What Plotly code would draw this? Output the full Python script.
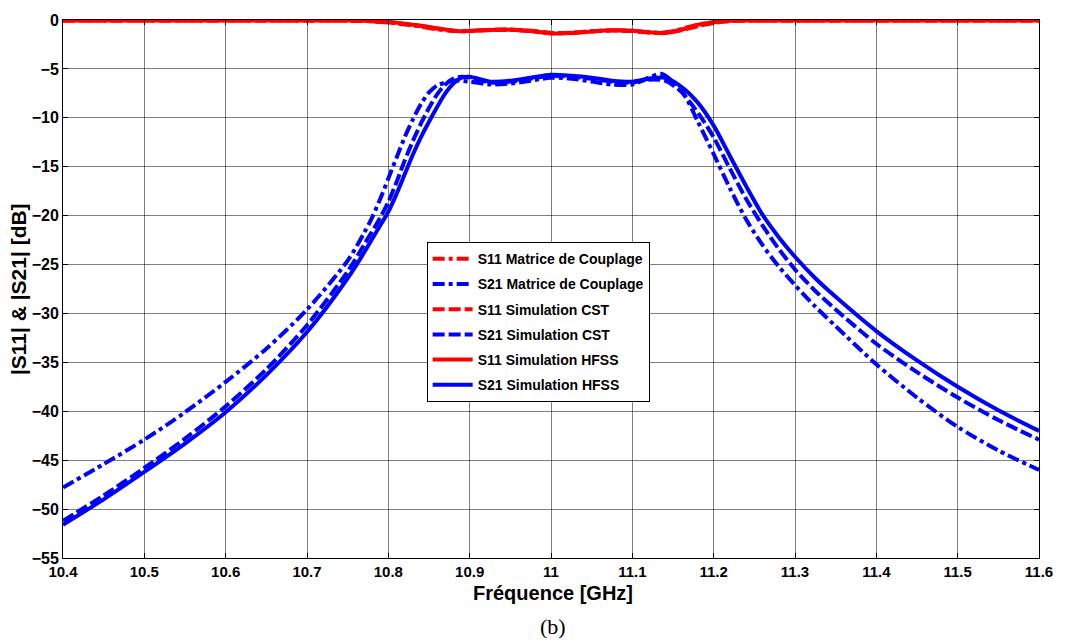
import plotly.graph_objects as go

# Frequency grid (GHz) and magnitudes (dB) for each model of the filter

# Coupling-matrix model
f_mat = [10.40, 10.45, 10.50, 10.55, 10.60, 10.65, 10.70, 10.75, 10.77, 10.78, 10.79,
         10.80, 10.81, 10.82, 10.83, 10.84, 10.85, 10.86, 10.87, 10.88, 10.90, 10.925,
         10.95, 10.975, 11.00, 11.025, 11.05, 11.075, 11.10, 11.12, 11.135, 11.15,
         11.165, 11.18, 11.20, 11.22, 11.24, 11.26, 11.28, 11.30, 11.325, 11.35,
         11.40, 11.45, 11.50, 11.55, 11.60]
s21_mat = [-47.8, -45.4, -42.9, -40.1, -37.0, -33.6, -29.6, -24.6, -21.8, -20.2, -18.3,
           -16.2, -14.1, -12.0, -10.2, -8.6, -7.4, -6.7, -6.4, -6.2, -6.3, -6.6,
           -6.5, -6.2, -5.9, -6.0, -6.3, -6.6, -6.6, -5.9, -5.5, -6.3,
           -7.8, -10.3, -13.7, -17.2, -20.4, -23.0, -25.2, -27.1, -29.3, -31.3,
           -35.2, -38.6, -41.6, -44.0, -46.0]
s11_mat = [-0.05, -0.05, -0.05, -0.05, -0.05, -0.05, -0.05, -0.06, -0.10, -0.14, -0.20,
           -0.27, -0.35, -0.45, -0.55, -0.68, -0.82, -0.95, -1.05, -1.12, -1.10, -1.00,
           -1.00, -1.12, -1.35, -1.32, -1.15, -1.05, -1.10, -1.25, -1.30, -1.15,
           -0.80, -0.50, -0.22, -0.09, -0.06, -0.05, -0.05, -0.05, -0.05, -0.05,
           -0.05, -0.05, -0.05, -0.05, -0.05]

# CST simulation
f_cst = [10.40, 10.45, 10.50, 10.55, 10.60, 10.65, 10.70, 10.75, 10.77, 10.79, 10.80,
         10.81, 10.82, 10.83, 10.84, 10.85, 10.86, 10.87, 10.88, 10.89, 10.90, 10.925,
         10.95, 10.975, 11.00, 11.025, 11.05, 11.075, 11.10, 11.12, 11.14, 11.16,
         11.17, 11.185, 11.20, 11.22, 11.24, 11.26, 11.28, 11.30, 11.325, 11.35,
         11.40, 11.45, 11.50, 11.55, 11.60]
s21_cst = [-51.2, -48.6, -45.8, -42.8, -39.5, -35.7, -31.2, -25.7, -23.0, -20.2, -18.6,
           -16.6, -14.4, -12.4, -10.6, -9.0, -7.6, -6.6, -6.0, -5.8, -5.9, -6.4,
           -6.3, -6.0, -5.7, -5.8, -6.0, -6.3, -6.4, -6.1, -6.2, -7.3,
           -8.3, -10.0, -12.0, -15.2, -18.3, -21.0, -23.4, -25.5, -27.7, -29.6,
           -33.1, -36.0, -38.6, -40.9, -42.9]
s11_cst = [-0.05, -0.05, -0.05, -0.05, -0.05, -0.05, -0.05, -0.06, -0.09, -0.16, -0.22,
           -0.30, -0.40, -0.50, -0.62, -0.75, -0.88, -1.00, -1.10, -1.15, -1.12, -1.02,
           -0.98, -1.10, -1.32, -1.30, -1.15, -1.08, -1.12, -1.28, -1.32, -1.05,
           -0.85, -0.55, -0.30, -0.12, -0.06, -0.05, -0.05, -0.05, -0.05, -0.05,
           -0.05, -0.05, -0.05, -0.05, -0.05]

# HFSS simulation
f_hfss = [10.40, 10.45, 10.50, 10.55, 10.60, 10.65, 10.70, 10.75, 10.77, 10.79, 10.80,
          10.81, 10.82, 10.83, 10.84, 10.85, 10.86, 10.87, 10.88, 10.89, 10.90, 10.925,
          10.95, 10.975, 11.00, 11.025, 11.05, 11.075, 11.10, 11.12, 11.14, 11.16,
          11.18, 11.20, 11.22, 11.24, 11.26, 11.28, 11.30, 11.325, 11.35,
          11.40, 11.45, 11.50, 11.55, 11.60]
s21_hfss = [-51.6, -49.0, -46.2, -43.3, -40.1, -36.3, -31.9, -26.4, -23.8, -21.0, -19.6,
            -17.8, -15.8, -13.8, -12.0, -10.4, -8.9, -7.5, -6.5, -5.9, -5.8, -6.3,
            -6.2, -5.9, -5.6, -5.7, -5.9, -6.2, -6.3, -6.0, -5.9, -6.8,
            -8.4, -10.8, -13.9, -17.0, -19.9, -22.2, -24.2, -26.4, -28.3,
            -31.8, -34.8, -37.5, -39.9, -42.0]
s11_hfss = [-0.05, -0.05, -0.05, -0.05, -0.05, -0.05, -0.05, -0.05, -0.08, -0.14, -0.20,
            -0.28, -0.38, -0.48, -0.58, -0.70, -0.85, -0.98, -1.08, -1.15, -1.12, -1.02,
            -1.00, -1.12, -1.38, -1.33, -1.18, -1.06, -1.10, -1.26, -1.34, -1.00,
            -0.50, -0.22, -0.08, -0.05, -0.05, -0.05, -0.05, -0.05, -0.05,
            -0.05, -0.05, -0.05, -0.05, -0.05]

x_ticks = [10.4, 10.5, 10.6, 10.7, 10.8, 10.9, 11.0, 11.1, 11.2, 11.3, 11.4, 11.5, 11.6]
x_tick_text = ["10.4", "10.5", "10.6", "10.7", "10.8", "10.9", "11", "11.1", "11.2",
               "11.3", "11.4", "11.5", "11.6"]
y_ticks = [0, -5, -10, -15, -20, -25, -30, -35, -40, -45, -50, -55]

RED = "#ff0000"
BLUE = "#0000ff"
LW = 4
DASHDOT = "12px,4px,4px,4px"
DASH = "12px,4px"

SANS = "Liberation Sans, Arial, sans-serif"

series = [
    ("S11 Matrice de Couplage", f_mat, s11_mat, RED, DASHDOT),
    ("S21 Matrice de Couplage", f_mat, s21_mat, BLUE, DASHDOT),
    ("S11 Simulation CST", f_cst, s11_cst, RED, DASH),
    ("S21 Simulation CST", f_cst, s21_cst, BLUE, DASH),
    ("S11 Simulation HFSS", f_hfss, s11_hfss, RED, "solid"),
    ("S21 Simulation HFSS", f_hfss, s21_hfss, BLUE, "solid"),
]

fig = go.Figure()
for i, (name, fx, fy, col, dash) in enumerate(series):
    fig.add_trace(go.Scatter(
        x=fx, y=fy, mode="lines", name=name, legendgroup=f"g{i}",
        line=dict(color=col, width=LW, dash=dash, shape="spline", smoothing=0.8),
    ))

axis_common = dict(
    showgrid=True, gridcolor="rgba(0,0,0,0.5)", gridwidth=1,
    showline=True, linecolor="black", linewidth=1, mirror="ticks",
    ticks="inside", ticklen=5, tickcolor="black", zeroline=False,
)

fig.update_xaxes(range=[10.4, 11.6], tickvals=x_ticks, ticktext=x_tick_text,
                 tickfont=dict(family=SANS, size=15, color="black", weight="bold"),
                 **axis_common)
fig.update_yaxes(range=[-55, 0], tickvals=y_ticks,
                 tickfont=dict(family=SANS, size=16, color="black", weight="bold"),
                 **axis_common)

fig.update_layout(
    width=1065, height=643,
    margin=dict(l=63, r=25, t=18, b=85),
    paper_bgcolor="white", plot_bgcolor="white",
    showlegend=True,
    legend=dict(
        x=0.3726, y=0.587, xanchor="left", yanchor="top",
        bgcolor="white", bordercolor="black", borderwidth=1,
        font=dict(family=SANS, size=14, color="black", weight="bold"),
        tracegroupgap=4, itemwidth=40,
    ),
    annotations=[
        dict(text="Fréquence [GHz]", xref="paper", yref="paper", x=0.502, y=-0.065,
             xanchor="center", yanchor="middle", showarrow=False,
             font=dict(family=SANS, size=20, color="black", weight="bold")),
        dict(text="(b)", xref="paper", yref="paper", x=0.502, y=-0.128,
             xanchor="center", yanchor="middle", showarrow=False,
             font=dict(family="Liberation Serif, Times New Roman, serif", size=22, color="black")),
        dict(text="|S11| &amp; |S21| [dB]", xref="paper", yref="paper", x=-0.046, y=0.5,
             xanchor="center", yanchor="middle", showarrow=False, textangle=-90,
             font=dict(family=SANS, size=21, color="black", weight="bold")),
    ],
)

fig.write_html("out.html")
